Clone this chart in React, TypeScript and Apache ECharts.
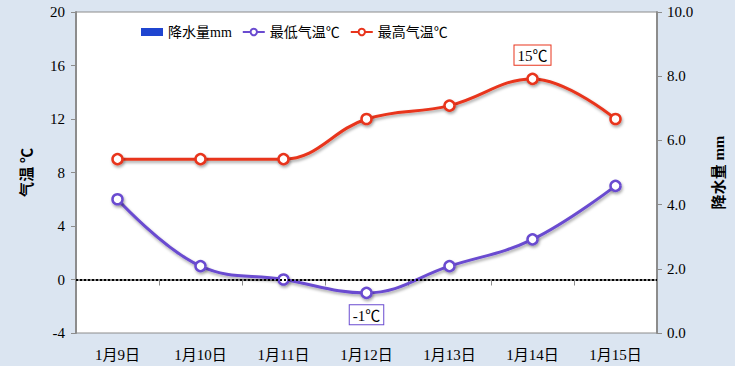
import React, { useEffect, useRef } from "react";
import * as echarts from "echarts";

const categories = ["1月9日", "1月10日", "1月11日", "1月12日", "1月13日", "1月14日", "1月15日"];
const precipitation = [0, 0, 0, 0, 0, 0, 0];
const lowTemp = [6, 1, 0, -1, 1, 3, 7];
const highTemp = [9, 9, 9, 12, 13, 15, 12];
const seriesNames = ["降水量mm", "最低气温℃", "最高气温℃"];

const FONT = "'Liberation Serif', 'Times New Roman', 'Noto Sans CJK SC', serif";
const LOW_COLOR = "#6a4bd0";
const HIGH_COLOR = "#e8341c";
const BAR_COLOR = "#1f45d0";

function withExtremeLabel(values: number[], kind: "max" | "min", color: string) {
  const target = kind === "max" ? Math.max(...values) : Math.min(...values);
  const idx = values.indexOf(target);
  return values.map((v, i) =>
    i === idx
      ? {
          value: v,
          label: {
            show: true,
            position: kind === "max" ? "top" : "bottom",
            distance: kind === "max" ? 8 : 6,
            formatter: v + "℃",
            color: "#000",
            fontFamily: FONT,
            fontSize: 15,
            borderColor: color,
            borderWidth: 1,
            padding: [3, 3, 1, 3],
            backgroundColor: "#fff",
          },
        }
      : v
  );
}

export default function App() {
  const ref = useRef<HTMLDivElement>(null);
  useEffect(() => {
    if (!ref.current) return;
    const chart = echarts.init(ref.current, null, { renderer: "svg" });
    const shadow = {
      shadowColor: "rgba(0,0,0,0.35)",
      shadowBlur: 3,
      shadowOffsetX: 1,
      shadowOffsetY: 2,
    };
    chart.setOption({
      animation: false,
      backgroundColor: "#dbe5f1",
      textStyle: { fontFamily: FONT },
      legend: {
        top: 20,
        left: 136,
        itemGap: 10,
        itemWidth: 22,
        itemHeight: 8,
        textStyle: { fontFamily: FONT, fontSize: 14, color: "#000" },
        data: [
          { name: seriesNames[0], icon: "rect" },
          { name: seriesNames[1] },
          { name: seriesNames[2] },
        ],
      },
      grid: {
        left: 76,
        right: 78,
        top: 12,
        bottom: 33,
        show: true,
        backgroundColor: "#fff",
        borderColor: "#8c8c8c",
        borderWidth: 1,
      },
      xAxis: {
        type: "category",
        data: categories,
        boundaryGap: true,
        axisLine: { lineStyle: { color: "#8c8c8c", width: 2 } },
        axisTick: { show: true, length: 6, lineStyle: { color: "#8c8c8c", width: 1 } },
        axisLabel: { color: "#000", fontSize: 15, fontFamily: FONT, margin: 14 },
      },
      yAxis: [
        {
          type: "value",
          min: -4,
          max: 20,
          interval: 4,
          name: "气温 ℃",
          nameLocation: "middle",
          nameGap: 42,
          nameTextStyle: { color: "#000", fontSize: 15, fontWeight: "bold", fontFamily: FONT },
          axisLine: { show: true, lineStyle: { color: "#8c8c8c", width: 2 } },
          axisTick: { show: true, length: 5, lineStyle: { color: "#8c8c8c" } },
          axisLabel: { color: "#000", fontSize: 15, fontFamily: FONT, margin: 11 },
          splitLine: { show: false },
        },
        {
          type: "value",
          min: 0,
          max: 10,
          interval: 2,
          position: "right",
          name: "降水量 mm",
          nameLocation: "middle",
          nameRotate: 90,
          nameGap: 54,
          nameTextStyle: { color: "#000", fontSize: 15, fontWeight: "bold", fontFamily: FONT },
          axisLine: { show: true, lineStyle: { color: "#8c8c8c", width: 2 } },
          axisTick: { show: true, length: 5, lineStyle: { color: "#8c8c8c" } },
          axisLabel: {
            color: "#000",
            fontSize: 15,
            fontFamily: FONT,
            margin: 10,
            formatter: (v: number) => v.toFixed(1),
          },
          splitLine: { show: false },
        },
      ],
      series: [
        {
          name: seriesNames[0],
          type: "bar",
          yAxisIndex: 1,
          data: precipitation,
          itemStyle: { color: BAR_COLOR },
          barWidth: "40%",
        },
        {
          name: seriesNames[1],
          type: "line",
          smooth: 0.4,
          data: withExtremeLabel(lowTemp, "min", LOW_COLOR),
          symbol: "circle",
          symbolSize: 10,
          color: LOW_COLOR,
          lineStyle: { color: LOW_COLOR, width: 3, ...shadow },
          itemStyle: { color: "#fff", borderColor: LOW_COLOR, borderWidth: 2.5, ...shadow },
          markLine: {
            silent: true,
            symbol: "none",
            label: { show: false },
            lineStyle: { color: "#000", type: [2, 2], width: 2, shadowBlur: 0, shadowOffsetY: 0, shadowOffsetX: 0 },
            data: [{ yAxis: 0 }],
          },
          z: 3,
        },
        {
          name: seriesNames[2],
          type: "line",
          smooth: 0.4,
          data: withExtremeLabel(highTemp, "max", HIGH_COLOR),
          symbol: "circle",
          symbolSize: 10,
          color: HIGH_COLOR,
          lineStyle: { color: HIGH_COLOR, width: 3, ...shadow },
          itemStyle: { color: "#fff", borderColor: HIGH_COLOR, borderWidth: 2.5, ...shadow },
          z: 4,
        },
      ],
    });
    return () => chart.dispose();
  }, []);
  return (
    <div
      ref={ref}
      style={{ position: "fixed", left: 0, top: 0, width: 735, height: 366 }}
    />
  );
}
